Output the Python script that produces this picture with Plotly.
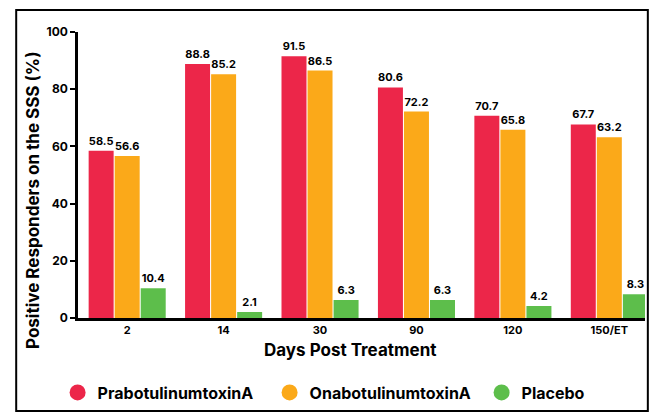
import plotly.graph_objects as go

# data
days = ["2", "14", "30", "90", "120", "150/ET"]
prabo = [58.5, 88.8, 91.5, 80.6, 70.7, 67.7]
onabo = [56.6, 85.2, 86.5, 72.2, 65.8, 63.2]
placebo = [10.4, 2.1, 6.3, 6.3, 4.2, 8.3]

series = [
    ("PrabotulinumtoxinA", prabo, "#EC2649"),
    ("OnabotulinumtoxinA", onabo, "#FBA919"),
    ("Placebo", placebo, "#5DBE4B"),
]

FONT = "Inter"

fig = go.Figure()
for name, vals, col in series:
    fig.add_trace(go.Bar(
        x=days, y=vals, name=name, marker_color=col, marker_line_width=0,
        text=[f"{v:.1f}" for v in vals], textposition="outside",
        textfont=dict(family=FONT, size=11, color="black", weight="bold"),
        cliponaxis=False, showlegend=False,
    ))
# legend entries with round symbols
for name, vals, col in series:
    fig.add_trace(go.Scatter(
        x=[None], y=[None], mode="markers", name=name,
        marker=dict(color=col, size=22, symbol="circle"),
    ))

fig.update_layout(
    width=651, height=416,
    margin=dict(l=78, r=6, t=32, b=98, autoexpand=False),
    paper_bgcolor="white", plot_bgcolor="white",
    barmode="group", bargap=0.19, bargroupgap=0.04,
    font=dict(family=FONT, color="black", weight="bold"),
    legend=dict(
        orientation="h", x=-0.036, y=-0.201, xanchor="left", yanchor="top",
        bgcolor="rgba(0,0,0,0)",
        font=dict(family=FONT, size=16, color="black", weight="bold"),
        entrywidth=167, itemsizing="trace",
    ),
    xaxis=dict(
        range=[-0.51, 5.37], showline=True, linecolor="black", linewidth=2.5,
        ticks="", tickfont=dict(size=11, weight="bold"), showgrid=False,
        zeroline=False,
    ),
    yaxis=dict(
        range=[0, 100], tickvals=[0, 20, 40, 60, 80, 100],
        showline=True, linecolor="black", linewidth=2.5,
        ticks="outside", ticklen=5, tickwidth=2, tickcolor="black",
        tickfont=dict(size=12, weight="bold"), showgrid=False, zeroline=False,
    ),
    annotations=[
        dict(text="Days Post Treatment", x=0.48, y=-0.07, xref="paper",
             yref="paper", xanchor="center", yanchor="top", showarrow=False,
             font=dict(family=FONT, size=17, weight="bold")),
        dict(text="Positive Responders on the SSS (%)", x=-0.079, y=0.41,
             xref="paper", yref="paper", textangle=-90, showarrow=False,
             xanchor="center", yanchor="middle",
             font=dict(family=FONT, size=17, weight="bold")),
    ],
    shapes=[
        dict(type="rect", xref="paper", yref="paper", x0=-0.109, x1=1.005,
             y0=-0.325, y1=1.077, layer="above",
             line=dict(color="black", width=2)),
    ],
)

fig.write_html("out.html", config={"displayModeBar": False},
               post_script="document.body.style.margin='0';")
